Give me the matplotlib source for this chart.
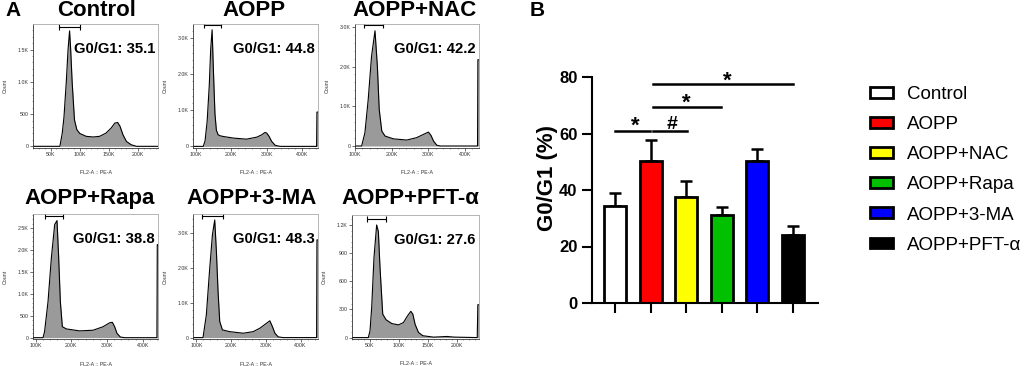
import matplotlib
matplotlib.use("Agg")
import matplotlib.pyplot as plt
from matplotlib.patches import Patch
from matplotlib.ticker import AutoMinorLocator

plt.rcParams['font.family'] = ['Liberation Sans', 'DejaVu Sans']

# --- PANEL A: cell-cycle histograms (x in K, y = count) ---
ctrl_x = [20, 66, 70, 73, 77, 80, 82.6, 84.5, 87, 91, 95, 100, 111, 123, 134, 145, 154, 160, 165, 169, 174, 180, 188, 197, 234]
ctrl_y = [0, 0, 200, 450, 1000, 1500, 1790, 1500, 1000, 410, 260, 200, 155, 145, 155, 205, 285, 360, 370, 310, 180, 75, 25, 0, 0]
ctrl_gate = [64, 101, 1845]

aopp_x = [92, 121, 126, 132, 138, 142, 146, 150, 154, 158, 163, 170, 180, 206, 243, 272, 286, 295, 300, 307, 314, 324, 338, 441, 442, 445]
aopp_y = [0, 0, 150, 700, 1700, 2700, 3230, 2000, 900, 450, 320, 290, 270, 230, 200, 255, 320, 385, 370, 275, 140, 30, 0, 0, 950, 950]
aopp_gate = [124, 170, 3350]

nac_x = [100, 118, 127, 136, 145, 154.5, 161, 166, 173, 182, 205, 241, 268, 286, 300, 307, 314, 323, 332, 434, 435, 438]
nac_y = [0, 0, 330, 1170, 2250, 2900, 2000, 920, 375, 250, 180, 150, 210, 290, 350, 270, 125, 20, 0, 0, 2170, 2170]
nac_gate = [124.5, 175.5, 3040]

rapa_x = [92.5, 120.6, 125, 134.6, 144, 153.3, 159.8, 164.5, 169.2, 174.8, 186, 223, 261, 289, 307.5, 315, 321.5, 328, 337.4, 349.5, 440, 441, 443]
rapa_y = [0, 0, 140, 820, 1820, 2580, 2670, 1820, 820, 250, 200, 155, 170, 250, 340, 350, 250, 100, 15, 0, 0, 2120, 2120]
rapa_gate = [127, 176.6, 2770]

ma_x = [90.4, 119.2, 128.8, 138.5, 146.2, 152.9, 157.7, 162.5, 167.3, 175, 196, 235, 263.5, 283, 302, 311.5, 319, 326, 335.6, 350, 446, 447, 450]
ma_y = [0, 0, 650, 1980, 2930, 3360, 2460, 1310, 460, 220, 170, 125, 170, 270, 410, 480, 310, 125, 20, 0, 0, 2790, 2790]
ma_gate = [116.3, 176.9, 3480]

pft_x = [19.6, 47.5, 50.4, 53.3, 57.2, 61.8, 64.7, 67.6, 72.2, 77.9, 87.6, 99, 107.6, 114.5, 120.3, 123.7, 127.7, 133.4, 140.8, 159, 170, 182, 195, 234, 235, 237]
pft_y = [0, 0, 70, 320, 850, 1200, 1130, 740, 250, 190, 150, 135, 160, 230, 280, 250, 140, 55, 20, 5, 8, 12, 5, 0, 350, 350]
pft_gate = [44.6, 77.9, 1260]

hist_titles = ['Control', 'AOPP', 'AOPP+NAC', 'AOPP+Rapa', 'AOPP+3-MA', 'AOPP+PFT-α']
g0g1_labels = ['G0/G1: 35.1', 'G0/G1: 44.8', 'G0/G1: 42.2', 'G0/G1: 38.8', 'G0/G1: 48.3', 'G0/G1: 27.6']

xt_small = [50, 100, 150, 200]
xtl_small = ['50K', '100K', '150K', '200K']
xt_big = [100, 200, 300, 400]
xtl_big = ['100K', '200K', '300K', '400K']
yt_3k = [0, 1000, 2000, 3000]
ytl_3k = ['0', '1.0K', '2.0K', '3.0K']

# --- PANEL B: bar chart ---
groups = ['Control', 'AOPP', 'AOPP+NAC', 'AOPP+Rapa', 'AOPP+3-MA', 'AOPP+PFT-α']
means = [34.4, 50.4, 37.4, 31.1, 50.4, 24.0]
sems = [4.7, 7.2, 5.9, 2.8, 4.0, 3.3]
bar_colors = ['white', '#ff0000', '#ffff00', '#00c000', '#0000ff', 'black']

sig_x1 = [0, 1.08, 1.08, 1.08]
sig_x2 = [0.98, 2.01, 2.98, 5.01]
sig_y = [60.8, 60.8, 69.3, 77.4]
sig_text = ['*', '#', '*', '*']
sig_tx = [0.56, 1.59, 2.01, 3.15]
sig_ty = [60.6, 61.5, 68.8, 76.5]

W, H = 1024, 366
fig = plt.figure(figsize=(W / 100, H / 100), dpi=100)


def frac(left, top, right, bottom):
    return [left / W, 1 - bottom / H, (right - left) / W, (bottom - top) / H]


def flow_panel(rect, x, y, gate, xlim, ylim, xt, xtl, yt, ytl, title, title_xy, g01):
    ax = fig.add_axes(rect)
    ax.fill_between(x, y, 0, color='#9a9a9a', linewidth=0)
    ax.plot(x, y, color='black', lw=0.8)
    ax.plot(gate[:2], [gate[2], gate[2]], color='black', lw=0.8,
            marker='|', markersize=4, markeredgewidth=0.8)
    ax.set_xlim(xlim)
    ax.set_ylim(ylim)
    ax.set_xticks(xt)
    ax.set_xticklabels(xtl)
    ax.set_yticks(yt)
    ax.set_yticklabels(ytl)
    ax.xaxis.set_minor_locator(AutoMinorLocator(5))
    ax.yaxis.set_minor_locator(AutoMinorLocator(5))
    ax.tick_params(labelsize=3.8, length=2, width=0.5, pad=1, colors='#333333')
    ax.tick_params(which='minor', length=1, width=0.4, colors='#555555')
    for s in ['left', 'bottom']:
        ax.spines[s].set_color('#333333')
        ax.spines[s].set_linewidth(0.6)
    for s in ['top', 'right']:
        ax.spines[s].set_color('#a8a8a8')
        ax.spines[s].set_linewidth(0.6)
    ax.set_ylabel('Count', fontsize=3.8, color='#333333')
    ax.yaxis.set_label_coords(-0.2, 0.5)
    ax.set_xlabel('FL2-A :: PE-A', fontsize=3.8, color='#333333')
    ax.xaxis.set_label_coords(0.5, -0.18)
    ax.text(0.975, 0.8, g01, transform=ax.transAxes, ha='right', va='center',
            fontsize=10.7, fontweight='bold')
    fig.text(title_xy[0] / W, 1 - title_xy[1] / H, title, ha='center', va='center',
             fontsize=16, fontweight='bold')
    return ax


flow_panel(frac(33, 24, 158, 148), ctrl_x, ctrl_y, ctrl_gate, (20, 234), (-26, 1897),
           xt_small, xtl_small, [0, 500, 1000, 1500], ['0', '500', '1.0K', '1.5K'],
           hist_titles[0], (97, 11), g0g1_labels[0])
flow_panel(frac(193, 24, 318, 148), aopp_x, aopp_y, aopp_gate, (92, 445), (-45, 3390),
           xt_big, xtl_big, yt_3k, ytl_3k, hist_titles[1], (254, 11), g0g1_labels[1])
flow_panel(frac(355, 24, 479, 148), nac_x, nac_y, nac_gate, (100, 438), (-50, 3070),
           xt_big, xtl_big, yt_3k, ytl_3k, hist_titles[2], (415, 11), g0g1_labels[2])
flow_panel(frac(33, 214, 158, 339), rapa_x, rapa_y, rapa_gate, (92.5, 443), (-30, 2820),
           xt_big, xtl_big, [0, 500, 1000, 1500, 2000, 2500],
           ['0', '500', '1.0K', '1.5K', '2.0K', '2.5K'], hist_titles[3], (90, 198), g0g1_labels[3])
flow_panel(frac(193, 214, 318, 339), ma_x, ma_y, ma_gate, (90.4, 450), (-40, 3530),
           xt_big, xtl_big, yt_3k, ytl_3k, hist_titles[4], (252, 198), g0g1_labels[4])
flow_panel(frac(352, 215, 479, 339), pft_x, pft_y, pft_gate, (19.6, 237), (-15, 1306),
           xt_small, xtl_small, [0, 300, 600, 900, 1200], ['0', '300', '600', '900', '1.2K'],
           hist_titles[5], (410, 198), g0g1_labels[5])

fig.text(5 / W, 1 - 10 / H, 'A', fontsize=15, fontweight='bold', va='center', ha='left')
fig.text(530 / W, 1 - 11 / H, 'B', fontsize=15, fontweight='bold', va='center', ha='left')

# --- bar chart ---
axb = fig.add_axes(frac(592, 77, 818, 303))
pos = list(range(len(groups)))
axb.bar(pos, means, width=0.62, color=bar_colors, edgecolor='black', linewidth=2, zorder=2)
axb.errorbar(pos, means, yerr=[[0] * len(sems), sems], fmt='none', ecolor='black',
             elinewidth=1.8, capsize=4, capthick=1.8, zorder=1)
axb.set_xlim(-0.646, 5.70)
axb.set_ylim(0, 80)
axb.set_yticks([0, 20, 40, 60, 80])
axb.set_xticks(pos)
axb.set_xticklabels([])
axb.tick_params(axis='both', length=7, width=1.5, labelsize=12)
for lab in axb.get_yticklabels():
    lab.set_fontweight('bold')
for s in ['top', 'right']:
    axb.spines[s].set_visible(False)
for s in ['left', 'bottom']:
    axb.spines[s].set_linewidth(1.5)

for x1, x2, y, t, tx, ty in zip(sig_x1, sig_x2, sig_y, sig_text, sig_tx, sig_ty):
    axb.plot([x1, x2], [y, y], color='black', lw=1.8, clip_on=False)
    axb.text(tx, ty, t, ha='center', va='baseline', fontsize=16 if t == '*' else 14,
             fontweight='bold', clip_on=False)

fig.text(547 / W, 1 - 178 / H, 'G0/G1 (%)', rotation=90, ha='center', va='center',
         fontsize=16, fontweight='bold')

handles = [Patch(facecolor=c, edgecolor='black', linewidth=2) for c in bar_colors]
fig.legend(handles, groups, loc='upper left', bbox_to_anchor=(870 / W, 1 - 86 / H),
           frameon=False, fontsize=13.5, handlelength=1.25, handleheight=0.52,
           labelspacing=0.7, handletextpad=0.72, borderpad=0, borderaxespad=0)

fig.savefig('out.png', dpi=100)
